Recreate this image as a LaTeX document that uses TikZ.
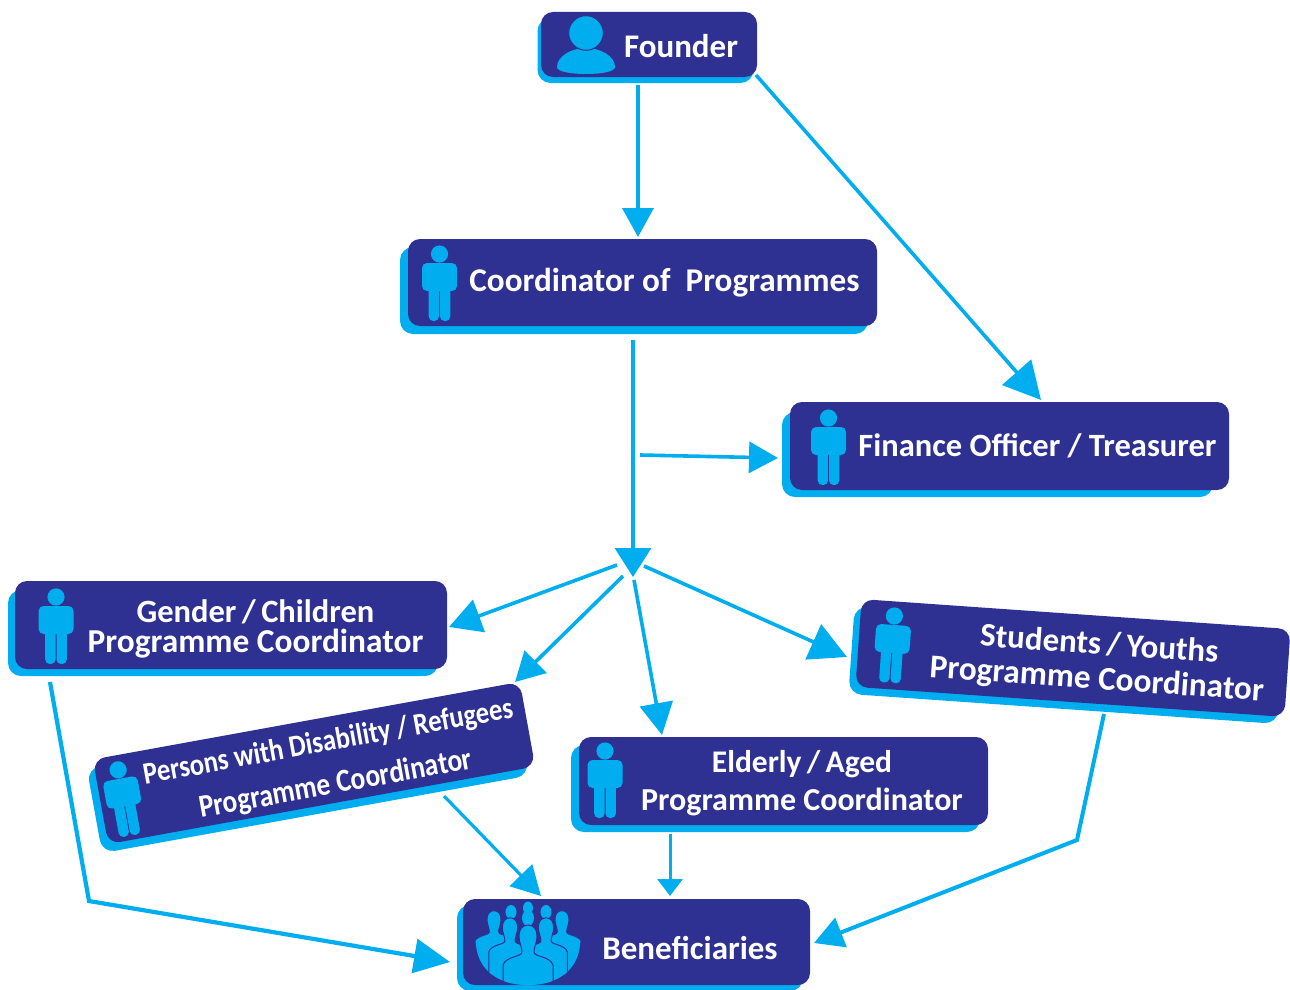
\documentclass[tikz,border=0pt]{standalone}
\usepackage{fontspec}
\setmainfont{Carlito}[BoldFont=Carlito Bold]
\newfontfamily\narrowfont{Carlito Bold}[FakeStretch=0.86]
\usetikzlibrary{arrows.meta,calc}
\definecolor{navy}{HTML}{2E3192}
\definecolor{sky}{HTML}{00AEEF}
\tikzset{
  x=1pt,y=-1pt,
  front/.style={fill=navy,rounded corners=12pt,inner sep=0pt,outer sep=0pt,minimum width=#1},
  back/.style={fill=sky,rounded corners=13pt,inner sep=0pt,outer sep=0pt,minimum width=#1},
  label/.style={text=white,font=\bfseries\fontsize{33}{38}\selectfont,align=center,inner sep=0pt},
  conn/.style={draw=sky,line width=3.6pt},
  headS/.style={-{Triangle[length=17pt,width=25pt]}},
  headM/.style={-{Triangle[length=29pt,width=31pt]}},
  headL/.style={-{Triangle[length=37pt,width=38pt]}},
  person/.pic={
    \fill[sky] (0,9) circle (8.6);
    \fill[sky,rounded corners=5pt] (-17.5,46) -- (-17.5,18) -- (17.5,18) -- (17.5,46) -- cycle;
    \fill[sky,rounded corners=4.5pt] (-10.8,38) rectangle (-0.5,76);
    \fill[sky,rounded corners=4.5pt] (0.5,38) rectangle (10.8,76);
  },
  silh/.pic={
    \filldraw[fill=sky,draw=navy,line width=1pt] (0,-12) .. controls (6,-12) and (9,-7) .. (9,-1)
      .. controls (9,6) and (6,10) .. (6,15) .. controls (6,20) and (22,19) .. (25,28) -- (25,70) -- (-25,70) -- (-25,28)
      .. controls (-22,19) and (-6,20) .. (-6,15) .. controls (-6,10) and (-9,6) .. (-9,-1)
      .. controls (-9,-7) and (-6,-12) .. (0,-12) -- cycle;
  },
}
\begin{document}
\begin{tikzpicture}
\useasboundingbox (0,0) rectangle (1290,990);
% shadows
\node[back=216pt,minimum height=65pt] (founder-s) at (645.5,50.5) {};
\node[back=468pt,minimum height=87pt] (coord-s) at (634,290.5) {};
\node[back=431pt,minimum height=85pt] (fin-s) at (997.5,454.5) {};
\node[back=430pt,minimum height=86pt] (gen-s) at (223,633) {};
\node[back=409pt,minimum height=87pt] (eld-s) at (775.5,788.5) {};
\node[back=346pt,minimum height=86pt] (ben-s) at (630,948) {};
\node[back=430pt,minimum height=88pt,rotate=-4] (stu-s) at (1066,665) {};
\node[back=434pt,minimum height=86pt,rotate=10.3] (per-s) at (308,772) {};
% boxes
\node[front=216pt,minimum height=65pt] (founder) at (649,44.5) {};
\node[front=469pt,minimum height=87pt] (coord) at (642.5,282.5) {};
\node[front=439pt,minimum height=88pt] (fin) at (1009.5,446) {};
\node[front=432pt,minimum height=88pt] (gen) at (231,625) {};
\node[front=409pt,minimum height=88pt] (eld) at (783.5,781) {};
\node[front=347pt,minimum height=86pt] (ben) at (636.5,942) {};
\node[front=430pt,minimum height=88pt,rotate=-4] (stu) at (1073,658) {};
\node[front=434pt,minimum height=86pt,rotate=10.3] (per) at (314,763) {};
% labels
\node[label] (founder-t) at (681,46) {Founder};
\node[label,font=\bfseries\fontsize{33.2}{38}\selectfont] (coord-t) at (664.5,283) {Coordinator of\ \ Programmes};
\node[label,font=\bfseries\fontsize{32.5}{38}\selectfont] (fin-t) at (1037.5,446) {Finance Officer / Treasurer};
\node[label,font=\bfseries\fontsize{33.4}{30}\selectfont] (gen-t) at (255.5,629) {{\fontsize{32.5}{30}\selectfont Gender\,/\,Children}\\Programme Coordinator};
\node[label,font=\bfseries\fontsize{32}{38}\selectfont] (eld-t) at (802,783) {{\fontsize{31.5}{38}\selectfont Elderly\,/\,Aged}\\Programme Coordinator};
\node[label] (ben-t) at (690,948) {Beneficiaries};
\node[label,font=\bfseries\fontsize{33.3}{35}\selectfont,rotate=-4] (stu-t) at (1098,663) {{\fontsize{33}{35}\selectfont Students\,/\,Youths}\\Programme Coordinator};
\node[label,font=\narrowfont\fontsize{32}{43}\selectfont,rotate=10.3] (per-t) at (332,764) {{\fontsize{31}{43}\selectfont Persons with Disability / Refugees}\\Programme Coordinator};
% icons
\fill[sky] (586,48) .. controls (600,48) and (615,56) .. (615,67) .. controls (615,72) and (600,74) .. (586,74)
  .. controls (572,74) and (557,72) .. (557,67) .. controls (557,56) and (572,48) .. (586,48) -- cycle;
\filldraw[fill=sky,draw=navy,line width=1pt] (586,33) circle (17.3);
\pic at (439.5,245) {person};
\pic at (828.5,409) {person};
\pic at (56,588) {person};
\pic at (605,742) {person};
\pic[rotate=-4] at (895,607) {person};
\pic[rotate=10.3] at (116.5,761) {person};
\begin{scope}
  \clip (470,895) -- (586,895) -- (580,945) .. controls (578,968) and (560,985) .. (528,985)
    .. controls (496,985) and (478,968) .. (476,945) -- cycle;
  \fill[sky] (528,908) ellipse (5 and 6.5);
  \fill[sky] (511,912) ellipse (5.5 and 7);
  \fill[sky] (546,912) ellipse (5.5 and 7);
  \fill[sky] (528,918) ellipse (6 and 8);
  \pic[scale=.78] at (494,920) {silh};
  \pic[scale=.78] at (562,920) {silh};
  \pic[scale=.85] at (510,928) {silh};
  \pic[scale=.85] at (546,928) {silh};
  \pic at (528,937) {silh};
\end{scope}
% free ends
\coordinate (hub) at (633,577);
\coordinate (tap) at (640,455);
\coordinate (hubW) at (617,565);
\coordinate (hubSW) at (623,576);
\coordinate (hubS) at (634,580);
\coordinate (hubE) at (644,566);
\coordinate (bendL) at (89,901);
\coordinate (bendR) at (1077,840);
% connectors
\draw[conn,headM] ([shift={(-11,40.5)}]founder.center) -- ([shift={(-4.5,-45.5)}]coord.center);
\draw[conn,headL] ([shift={(107,30.5)}]founder.center) -- ([shift={(31.5,-46)}]fin.center);
\draw[conn,-{Triangle[length=29pt,width=36pt]}] ([shift={(-9.5,57.5)}]coord.center) -- (hub);
\draw[conn,headM] (tap) -- ([shift={(-231.5,12)}]fin.center);
\draw[conn,-{Triangle[length=32pt,width=34pt]}] (hubW) -- ([shift={(218,2)}]gen.center);
\draw[conn,headM] (hubSW) -- ([shift={(201,-81)}]per.center);
\draw[conn,-{Triangle[length=32pt,width=33pt]}] (hubS) -- ([shift={(-121.5,-46)}]eld.center);
\draw[conn,headL] (hubE) -- ([shift={(-226,-1)}]stu.center);
\draw[conn,line width=4.2pt,-{Triangle[length=36pt,width=34pt]}] ([shift={(-181,57)}]gen.center) -- (bendL) -- ([shift={(-186.5,20)}]ben.center);
\draw[conn,line width=3.2pt,headM] ([shift={(130,33)}]per.center) -- ([shift={(-95.5,-46)}]ben.center);
\draw[conn,line width=3pt,headS] ([shift={(-113.5,53)}]eld.center) -- ([shift={(33.5,-46)}]ben.center);
\draw[conn,line width=4pt,headM] ([shift={(31,56)}]stu.center) -- (bendR) -- ([shift={(177.5,1)}]ben.center);
\end{tikzpicture}
\end{document}
